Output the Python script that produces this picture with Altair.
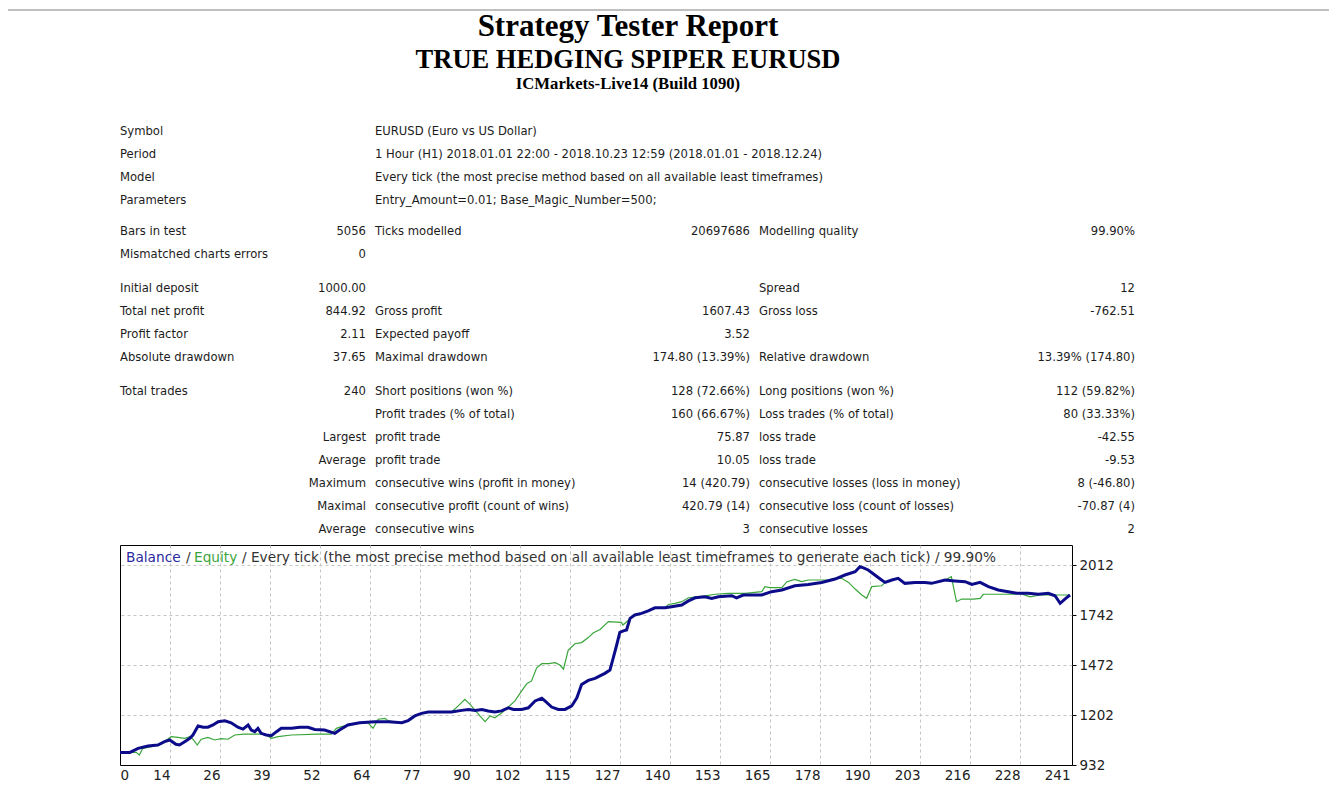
import altair as alt
import pandas as pd

# ---------------- header texts ----------------
TITLE = "Strategy Tester Report"
SUBTITLE = "TRUE HEDGING SPIPER EURUSD"
SERVER = "ICMarkets-Live14 (Build 1090)"

# ---------------- report table (6 columns x 17 rows) ----------------
COL1 = ["Symbol", "Period", "Model", "Parameters", "Bars in test", "Mismatched charts errors",
        "Initial deposit", "Total net profit", "Profit factor", "Absolute drawdown", "Total trades",
        "", "", "", "", "", ""]
COL2 = ["", "", "", "", "5056", "0", "1000.00", "844.92", "2.11", "37.65", "240",
        "", "Largest", "Average", "Maximum", "Maximal", "Average"]
COL3 = ["EURUSD (Euro vs US Dollar)",
        "1 Hour (H1) 2018.01.01 22:00 - 2018.10.23 12:59 (2018.01.01 - 2018.12.24)",
        "Every tick (the most precise method based on all available least timeframes)",
        "Entry_Amount=0.01; Base_Magic_Number=500;",
        "Ticks modelled", "", "", "Gross profit", "Expected payoff", "Maximal drawdown",
        "Short positions (won %)", "Profit trades (% of total)", "profit trade", "profit trade",
        "consecutive wins (profit in money)", "consecutive profit (count of wins)", "consecutive wins"]
COL4 = ["", "", "", "", "20697686", "", "", "1607.43", "3.52", "174.80 (13.39%)",
        "128 (72.66%)", "160 (66.67%)", "75.87", "10.05", "14 (420.79)", "420.79 (14)", "3"]
COL5 = ["", "", "", "", "Modelling quality", "", "Spread", "Gross loss", "", "Relative drawdown",
        "Long positions (won %)", "Loss trades (% of total)", "loss trade", "loss trade",
        "consecutive losses (loss in money)", "consecutive loss (count of losses)", "consecutive losses"]
COL6 = ["", "", "", "", "99.90%", "", "12", "-762.51", "", "13.39% (174.80)",
        "112 (59.82%)", "80 (33.33%)", "-42.55", "-9.53", "8 (-46.80)", "-70.87 (4)", "2"]
ROW_SECTION = [0, 0, 0, 0, 1, 1, 2, 2, 2, 2, 3, 3, 3, 3, 3, 3, 3]

# ---------------- chart legend ----------------
LEGEND_PARTS = ["Balance", "/", "Equity",
                "/ Every tick (the most precise method based on all available least timeframes to generate each tick) / 99.90%"]

# ---------------- balance / equity series (trade number, money) ----------------
BAL_T = [0.0, 2.5, 4.6, 7.1, 9.6, 11.3, 12.6, 14.2, 15.1, 16.4, 17.7, 18.5, 19.8, 21.1, 22.3, 23.6,
         24.9, 26.6, 28.2, 29.9, 31.2, 32.5, 33.3, 34.2, 35.0, 35.8, 37.1, 38.4, 39.7, 40.9, 43.5,
         45.6, 47.7, 49.4, 51.9, 54.5, 55.7, 57.8, 60.8, 64.7, 68.1, 71.5, 73.1, 74.8, 76.5, 78.2,
         84.1, 86.7, 88.4, 90.1, 91.8, 93.4, 95.1, 96.8, 98.5, 99.8, 101.9, 103.6, 105.3, 107.0,
         107.8, 109.5, 111.2, 112.9, 114.6, 115.9, 117.1, 118.8, 120.5, 123.0, 124.3, 125.1, 126.0,
         126.8, 127.7, 128.5, 129.4, 130.6, 132.3, 134.0, 135.7, 138.3, 139.9, 142.5, 144.2, 145.9,
         148.4, 150.1, 151.8, 155.2, 156.4, 158.1, 162.8, 165.3, 167.9, 171.2, 174.6, 178.0, 181.4,
         183.9, 186.5, 187.7, 188.6, 189.8, 191.5, 193.2, 194.1, 195.8, 197.4, 199.1, 201.7, 204.2,
         205.9, 209.3, 211.8, 214.4, 216.1, 218.2, 220.3, 222.8, 225.3, 227.5, 230.4, 233.0, 235.5,
         237.2, 238.5, 239.7, 241.0]
BAL_V = [1000, 1000, 1022, 1035, 1040, 1058, 1067, 1044, 1040, 1058, 1076, 1094, 1143, 1136, 1136, 1148,
         1166, 1171, 1160, 1136, 1126, 1148, 1121, 1112, 1130, 1103, 1094, 1090, 1112, 1130, 1130,
         1136, 1136, 1124, 1121, 1103, 1121, 1148, 1160, 1166, 1166, 1160, 1172, 1197, 1211, 1218,
         1218, 1227, 1232, 1227, 1232, 1224, 1218, 1224, 1241, 1232, 1232, 1241, 1278, 1292,
         1278, 1245, 1232, 1232, 1251, 1295, 1367, 1389, 1400, 1427, 1445, 1508, 1580,
         1648, 1656, 1661, 1724, 1742, 1751, 1764, 1781, 1781, 1787, 1796, 1818, 1835,
         1840, 1831, 1840, 1846, 1835, 1850, 1850, 1868, 1877, 1900, 1907, 1918, 1936,
         1958, 1976, 2003, 1997, 1985, 1958, 1931, 1918, 1931, 1940, 1913, 1918, 1918,
         1913, 1931, 1926, 1922, 1907, 1918, 1895, 1877, 1868, 1859, 1859, 1854, 1859,
         1846, 1805, 1828, 1850]
EQ_T = [0.0, 4.1, 4.9, 5.8, 8.0, 10.4, 13.0, 14.7, 16.4, 17.7, 18.5, 19.6, 20.6, 22.3, 24.0, 25.7,
        27.4, 29.1, 31.6, 35.0, 36.7, 38.4, 40.1, 43.5, 50.2, 53.6, 54.9, 56.2, 57.8, 60.8, 62.9,
        64.2, 65.5, 67.2, 68.1, 71.5, 73.1, 74.8, 76.5, 78.2, 84.1, 85.8, 87.5, 88.8, 90.1, 91.3,
        92.6, 93.9, 95.1, 96.8, 98.5, 100.2, 101.9, 103.2, 104.4, 105.7, 107.0, 108.7, 110.4, 111.6,
        112.5, 113.7, 115.4, 117.1, 118.8, 120.1, 121.8, 123.9, 127.2, 127.6, 129.8, 130.6, 132.3,
        134.0, 135.7, 138.3, 139.1, 140.8, 142.5, 144.2, 148.4, 151.0, 154.3, 158.5, 162.8, 163.6,
        164.9, 167.9, 169.2, 171.2, 172.9, 174.6, 179.7, 181.4, 183.1, 184.8, 186.5, 188.2, 189.4,
        190.7, 193.2, 194.1, 195.8, 197.4, 199.1, 201.7, 204.2, 205.9, 209.3, 210.5, 210.9, 212.2,
        213.5, 216.5, 218.2, 219.0, 226.6, 228.3, 230.9, 233.4, 241.0]
EQ_V = [1000, 1000, 986, 1022, 1031, 1045, 1085, 1081, 1076, 1085, 1071, 1040, 1071, 1081, 1067, 1074,
        1071, 1094, 1099, 1099, 1099, 1076, 1085, 1094, 1099, 1099, 1130, 1139, 1148, 1160, 1160,
        1130, 1179, 1184, 1170, 1160, 1172, 1197, 1211, 1218, 1218, 1251, 1287, 1259, 1227, 1197,
        1166, 1197, 1187, 1213, 1245, 1278, 1332, 1371, 1386, 1457, 1479, 1479, 1485, 1472,
        1449, 1551, 1587, 1593, 1620, 1646, 1664, 1706, 1702, 1688, 1730, 1742, 1751,
        1764, 1781, 1781, 1799, 1805, 1814, 1835, 1845, 1854, 1859, 1859, 1868, 1895,
        1890, 1890, 1922, 1934, 1922, 1931, 1931, 1940, 1940, 1918, 1882, 1850, 1832,
        1895, 1900, 1918, 1931, 1940, 1913, 1918, 1918, 1913, 1931, 1944, 1949, 1814,
        1828, 1828, 1832, 1854, 1854, 1859, 1840, 1850, 1850]

X_TICK_LABELS = ["0", "14", "26", "39", "52", "64", "77", "90", "102", "115", "127", "140", "153",
                 "165", "178", "190", "203", "216", "228", "241"]
Y_TICKS = [932, 1202, 1472, 1742, 2012]

# ---------------- layout / style ----------------
W, H = 952, 220                      # plot area
LAST_TRADE = 241
N_DIV = len(X_TICK_LABELS) - 1
X_MAX = LAST_TRADE * W / (50 * N_DIV)  # grid every 50 px
Y_MIN, Y_MAX = 932, 932 + H * 5.4

COL_ANCHOR = [0, 246, 255, 630, 639, 1015]
COL_ALIGN = ["left", "right", "left", "right", "left", "right"]
ROW0_Y, ROW_PITCH = -413, 23
SECTION_GAP = [0, 8, 19, 30]

TAHOMA = "DejaVu Sans"
SERIF = "Liberation Serif"
TEXT_COLOR = "#1c1c1c"
BAL_COLOR = "#0c0c8a"
EQ_COLOR = "#3aa53a"
GRID = "#c4c4c4"

PX_X = alt.Scale(domain=[0, W], range=[0, W], nice=False, zero=False)
PX_Y = alt.Scale(domain=[0, H], range=[0, H], nice=False, zero=False)

# ---------------- table layers ----------------
cols = [COL1, COL2, COL3, COL4, COL5, COL6]
recs = []
for i in range(len(COL1)):
    for j, col in enumerate(cols):
        if col[i]:
            recs.append({"text": col[i], "px": COL_ANCHOR[j],
                         "py": ROW0_Y + ROW_PITCH * i + SECTION_GAP[ROW_SECTION[i]],
                         "side": COL_ALIGN[j]})
table = pd.DataFrame(recs)


def px_text(df, **kw):
    return alt.Chart(df).mark_text(**kw).encode(
        x=alt.X("px:Q", scale=PX_X, axis=None),
        y=alt.Y("py:Q", scale=PX_Y, axis=None),
        text="text:N",
    )


table_left = px_text(table[table.side == "left"], align="left", baseline="middle",
                     font=TAHOMA, fontSize=11.6, color=TEXT_COLOR)
table_right = px_text(table[table.side == "right"], align="right", baseline="middle",
                      font=TAHOMA, fontSize=11.6, color=TEXT_COLOR)

heads = pd.DataFrame({"text": [TITLE, SUBTITLE, SERVER], "px": [508, 508, 508],
                      "py": [-509, -477, -456], "fs": [31, 26.5, 16.7]})
head_layer = alt.Chart(heads).mark_text(align="center", baseline="alphabetic", font=SERIF,
                                        fontWeight="bold", color="#000").encode(
    x=alt.X("px:Q", scale=PX_X, axis=None),
    y=alt.Y("py:Q", scale=PX_Y, axis=None),
    text="text:N",
    size=alt.Size("fs:Q", scale=None, legend=None),
)

leg = pd.DataFrame({"text": LEGEND_PARTS, "px": [6, 66, 74, 122], "py": [13, 13, 13, 13],
                    "c": ["#2a2a9e", "#333333", "#3aa53a", "#333333"]})
legend_layer = alt.Chart(leg).mark_text(align="left", baseline="middle", font=TAHOMA,
                                        fontSize=13.7).encode(
    x=alt.X("px:Q", scale=PX_X, axis=None),
    y=alt.Y("py:Q", scale=PX_Y, axis=None),
    text="text:N",
    color=alt.Color("c:N", scale=None, legend=None),
)

top_rule = alt.Chart(pd.DataFrame({"a": [0]})).mark_rule(color="#c0c0c0", strokeWidth=2).encode(
    x=alt.value(-112), x2=alt.value(1209), y=alt.value(-535))

# ---------------- balance / equity lines ----------------
x_ticks = [k * LAST_TRADE / N_DIV for k in range(N_DIV + 1)]
label_expr = "[" + ",".join(f"'{s}'" for s in X_TICK_LABELS) + f"][round(datum.value*{N_DIV}/{LAST_TRADE})]"

X_ENC = alt.X("trade:Q", title="",
              scale=alt.Scale(domain=[0, X_MAX], nice=False, zero=False),
              axis=alt.Axis(values=x_ticks, labelExpr=label_expr, grid=True, gridDash=[3, 3],
                            gridColor=GRID, ticks=False, domain=False, labelFont=TAHOMA,
                            labelFontSize=13.5, labelColor="#222", labelPadding=3,
                            labelFlush=False, labelOverlap=False,
                            gridOpacity={"condition": {"test": f"datum.value < 1 || datum.value > {LAST_TRADE - 1}",
                                                       "value": 0}, "value": 1},
                            labelAlign={"condition": {"test": "datum.value == 0", "value": "left"},
                                        "value": "right"}))
Y_ENC = alt.Y("value:Q", title="",
              scale=alt.Scale(domain=[Y_MIN, Y_MAX], nice=False, zero=False),
              axis=alt.Axis(orient="right", values=Y_TICKS, format="d", grid=True, gridDash=[3, 3],
                            gridColor=GRID, ticks=True, tickSize=4, tickColor="#000",
                            domain=False, labelFont=TAHOMA, labelFontSize=13.5, labelColor="#222",
                            labelPadding=3, labelFlush=False, labelOverlap=False,
                            gridOpacity={"condition": {"test": f"datum.value == {Y_MIN}", "value": 0},
                                         "value": 1},
                            labelBaseline="middle"))

bal_df = pd.DataFrame({"trade": BAL_T, "value": BAL_V})
eq_df = pd.DataFrame({"trade": EQ_T, "value": EQ_V})

eq_line = alt.Chart(eq_df).mark_line(color=EQ_COLOR, strokeWidth=1.2).encode(x=X_ENC, y=Y_ENC)
bal_line = alt.Chart(bal_df).mark_line(color=BAL_COLOR, strokeWidth=3).encode(x=X_ENC, y=Y_ENC)
lines = alt.layer(eq_line, bal_line)

chart = alt.layer(
    lines, legend_layer, table_left, table_right, head_layer, top_rule
).resolve_scale(
    x="independent", y="independent"
).properties(
    width=W, height=H,
    autosize=alt.AutoSizeParams(type="none"),
    padding={"left": 112, "top": 537, "right": 257, "bottom": 22},
    background="#ffffff",
).configure_view(stroke="#000", strokeWidth=1)

chart.save("out.html", embed_options={"renderer": "svg", "actions": False})
